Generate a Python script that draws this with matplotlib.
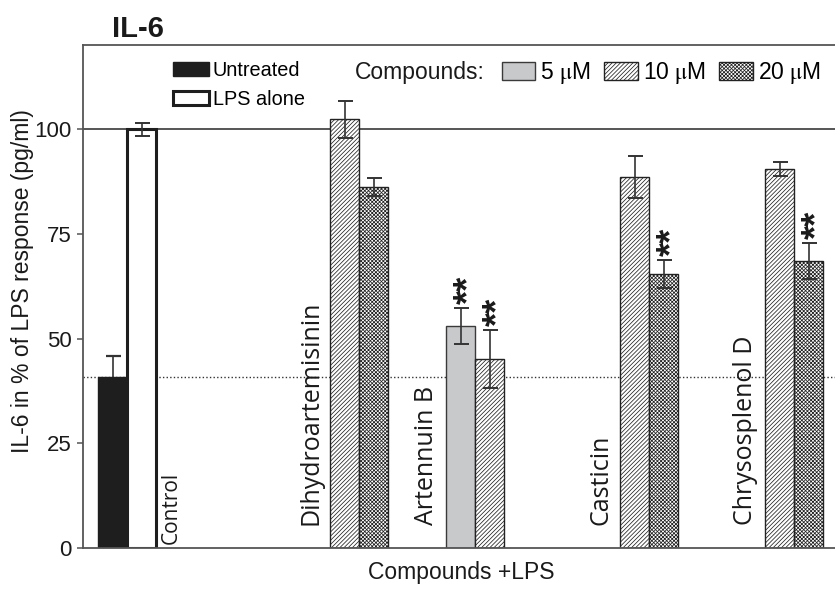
import matplotlib
matplotlib.use('Agg')
import matplotlib.pyplot as plt
from matplotlib.patches import Patch

plt.rcParams['font.family'] = ['Liberation Sans', 'DejaVu Sans']
plt.rcParams['mathtext.fontset'] = 'stix'
plt.rcParams['hatch.linewidth'] = 0.55

# ---------------- data ----------------
control_labels = ['Untreated', 'LPS alone']
control_values = [40.9, 100.0]
control_errors = [5.0, 1.5]

compounds = ['Dihydroartemisinin', 'Artennuin B', 'Casticin', 'Chrysosplenol D']
comp_doses = [['10', '20'], ['5', '10'], ['10', '20'], ['10', '20']]
comp_values = [[102.4, 86.2], [53.0, 45.1], [88.7, 65.5], [90.6, 68.5]]
comp_errors = [[4.4, 2.2], [4.3, 7.0], [5.0, 3.3], [1.7, 4.3]]
comp_signif = [[False, False], [True, True], [False, True], [False, True]]

doses = ['5', '10', '20']
dose_labels = [r'5 $\mathrm{\mu}$M', r'10 $\mathrm{\mu}$M', r'20 $\mathrm{\mu}$M']
yticks = [0, 25, 50, 75, 100]

# ---------------- styles / layout ----------------
W, H = 835, 590
dose_style = {
    '5': dict(facecolor='#c8c9cb', edgecolor='#3a3a3a', hatch=None),
    '10': dict(facecolor='white', edgecolor='#222222', hatch='/' * 8),
    '20': dict(facecolor='white', edgecolor='#222222', hatch='x' * 9),
}
control_pos = [1, 2]
group_start = [9, 13, 19, 24]
label_font = ['Open Sans', 'DejaVu Sans']

fig = plt.figure(figsize=(W / 100, H / 100), dpi=100)
ax = fig.add_axes([83 / W, 1 - 548 / H, (840 - 83) / W, (548 - 45) / H])
ax.set_xlim(-0.03, 26.07)
ax.set_ylim(0, 120.13)

# reference lines
ax.axhline(100, color='#555555', lw=1.4, zorder=0)
ax.axhline(control_values[0], color='#333333', lw=1.0, ls=(0, (1, 1.6)), zorder=0)

# control bars
ax.errorbar([control_pos[0]], [control_values[0]], yerr=[control_errors[0]], fmt='none',
            ecolor='#333333', elinewidth=1.2, capsize=5.4, capthick=1.6, zorder=1)
ax.bar(control_pos[0], control_values[0], width=1.0, color='#1e1e1e',
       edgecolor='#1e1e1e', lw=1, zorder=2)
ax.bar(control_pos[1], control_values[1], width=1.0, color='white',
       edgecolor='#1e1e1e', lw=2.2, zorder=2)
ax.errorbar([control_pos[1]], [control_values[1]], yerr=[control_errors[1]], fmt='none',
            ecolor='#333333', elinewidth=1.2, capsize=5.4, capthick=1.4, zorder=3)
ax.text(control_pos[1] + 0.5 + 0.14, 1.0, 'Control', rotation=90,
        ha='left', va='bottom', fontsize=15, family=label_font, color='#1a1a1a')

# compound bars
for gi, name in enumerate(compounds):
    for bi, d in enumerate(comp_doses[gi]):
        x = group_start[gi] + bi
        v = comp_values[gi][bi]
        e = comp_errors[gi][bi]
        st = dose_style[d]
        ax.bar(x, v, width=1.0, facecolor=st['facecolor'], edgecolor=st['edgecolor'],
               hatch=st['hatch'], lw=1.0, zorder=2)
        ax.errorbar([x], [v], yerr=[e], fmt='none', ecolor='#333333',
                    elinewidth=1.2, capsize=5.4, capthick=1.4, zorder=3)
        if comp_signif[gi][bi]:
            ax.annotate('**', xy=(x, v + e), xytext=(6.5, 3), textcoords='offset points',
                        rotation=90, ha='center', va='bottom', fontsize=26,
                        fontweight='bold', color='#1a1a1a')
    ax.text(group_start[gi] - 0.5 - 0.25, 5.5, name, rotation=90, ha='right',
            va='bottom', fontsize=18, family=label_font, color='#1a1a1a')

# axes styling
for s in ['left', 'bottom', 'top', 'right']:
    ax.spines[s].set_color('#555555')
    ax.spines[s].set_linewidth(1.3)
ax.set_xticks([])
ax.set_yticks(yticks)
ax.set_yticklabels([str(t) for t in yticks])
ax.tick_params(axis='y', direction='out', length=4.5, width=1.1, color='#555555',
               labelsize=16, pad=3.5, labelcolor='#1a1a1a')
ax.set_xlabel('Compounds +LPS', fontsize=16.5, labelpad=9, color='#1a1a1a')

fig.text(23 / W, 1 - 281 / H, 'IL-6 in % of LPS response (pg/ml)', rotation=90,
         ha='center', va='center', fontsize=16.5, color='#1a1a1a')
fig.text(112 / W, 1 - 37 / H, 'IL-6', fontsize=21, fontweight='bold',
         ha='left', va='baseline', color='#1a1a1a')

# legend 1: controls
h1 = [Patch(facecolor='#1e1e1e', edgecolor='#1e1e1e', lw=1),
      Patch(facecolor='white', edgecolor='#1e1e1e', lw=2.2)]
leg1 = ax.legend(h1, control_labels, loc='upper left',
                 bbox_to_anchor=(173 / W, 1 - 61 / H), bbox_transform=fig.transFigure,
                 frameon=False, fontsize=14.3, handlelength=1.8, handleheight=0.72,
                 handletextpad=0.2, labelspacing=0.5, borderpad=0, borderaxespad=0)
ax.add_artist(leg1)

# legend 2: doses
fig.text(355 / W, 1 - 73 / H, 'Compounds:', fontsize=16.5, ha='left', va='center',
         color='#1a1a1a')
h2 = [Patch(facecolor=dose_style[d]['facecolor'], edgecolor=dose_style[d]['edgecolor'],
            hatch=dose_style[d]['hatch'], lw=1.0) for d in doses]
leg2 = ax.legend(h2, dose_labels, loc='center left', ncol=3,
                 bbox_to_anchor=(502 / W, 1 - 73 / H), bbox_transform=fig.transFigure,
                 frameon=False, fontsize=16.5, handlelength=1.45, handleheight=0.83,
                 handletextpad=0.22, columnspacing=0.6, borderpad=0, borderaxespad=0)

fig.savefig('out.png', dpi=100)
